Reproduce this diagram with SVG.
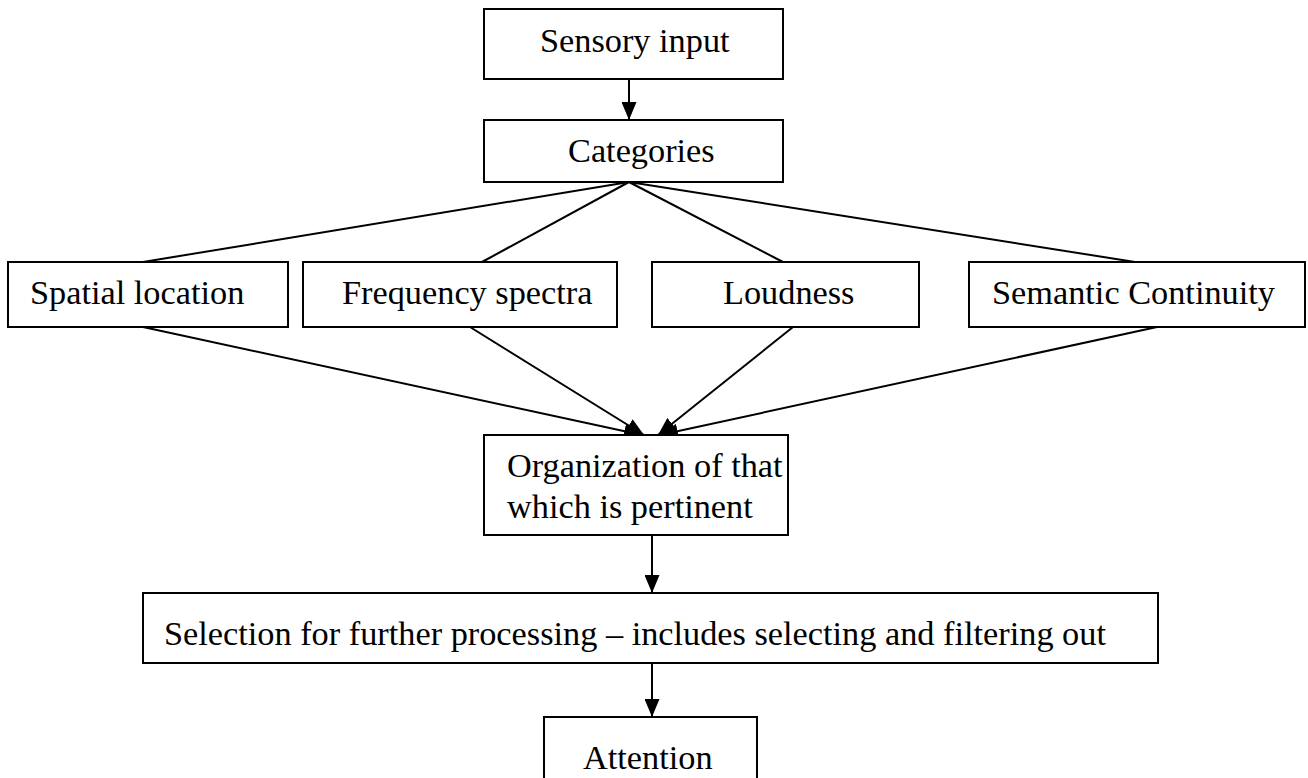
<svg xmlns="http://www.w3.org/2000/svg" width="1308" height="778" viewBox="0 0 1308 778">
<defs>
<marker id="ah" markerUnits="userSpaceOnUse" markerWidth="18" markerHeight="15" viewBox="0 0 18 15" refX="18" refY="7.5" orient="auto">
<path d="M0,0 L18,7.5 L0,15 Z" fill="#000"/>
</marker>
<style>
.box{fill:#fff;stroke:#000;stroke-width:2}
.t{font-family:"Liberation Serif","Times New Roman",serif;font-size:34.3px;fill:#000}
.c{stroke:#000;stroke-width:2;fill:none}
.a{marker-end:url(#ah)}
</style>
</defs>
<rect width="1308" height="778" fill="#fff"/>
<g id="connectors">
<line class="c a" x1="629" y1="79" x2="629" y2="120"/>
<line class="c" x1="629" y1="182" x2="143" y2="262"/>
<line class="c" x1="629" y1="182" x2="482" y2="262"/>
<line class="c" x1="629" y1="182" x2="783" y2="262"/>
<line class="c" x1="629" y1="182" x2="1135" y2="262"/>
<line class="c a" x1="143" y1="327" x2="642" y2="435"/>
<line class="c a" x1="470" y1="327" x2="644" y2="435"/>
<line class="c a" x1="793" y1="327" x2="658" y2="435"/>
<line class="c a" x1="1157" y1="327" x2="660" y2="435"/>
<line class="c a" x1="652" y1="535" x2="652" y2="593"/>
<line class="c a" x1="652" y1="663" x2="652" y2="717"/>
</g>
<g id="sensory">
<rect class="box" x="484" y="9" width="299" height="70"/>
<text class="t" x="540" y="52">Sensory input</text>
</g>
<g id="categories">
<rect class="box" x="484" y="120" width="299" height="62"/>
<text class="t" x="568" y="162">Categories</text>
</g>
<g id="spatial">
<rect class="box" x="8" y="262" width="280" height="65"/>
<text class="t" x="30" y="304">Spatial location</text>
</g>
<g id="frequency">
<rect class="box" x="303" y="262" width="314" height="65"/>
<text class="t" x="342" y="304">Frequency spectra</text>
</g>
<g id="loudness">
<rect class="box" x="652" y="262" width="267" height="65"/>
<text class="t" x="723" y="304">Loudness</text>
</g>
<g id="semantic">
<rect class="box" x="969" y="262" width="336" height="65"/>
<text class="t" x="992" y="304">Semantic Continuity</text>
</g>
<g id="organization">
<rect class="box" x="484" y="435" width="304" height="100"/>
<text class="t" x="507" y="477">Organization of that</text>
<text class="t" x="507" y="518">which is pertinent</text>
</g>
<g id="selection">
<rect class="box" x="143" y="593" width="1015" height="70"/>
<text class="t" x="164" y="645">Selection for further processing – includes selecting and filtering out</text>
</g>
<g id="attention">
<rect class="box" x="544" y="717" width="213" height="70"/>
<text class="t" x="583" y="769">Attention</text>
</g>
</svg>
